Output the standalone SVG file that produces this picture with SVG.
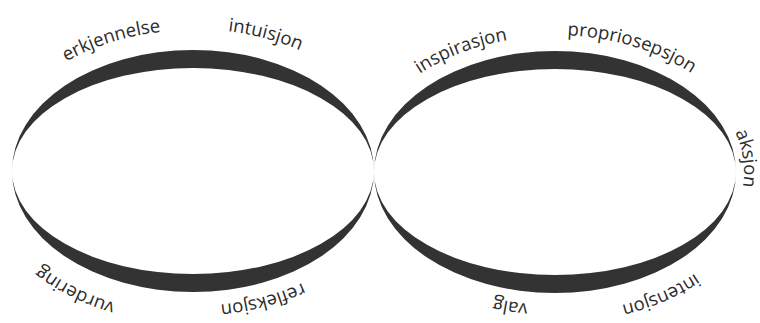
<svg xmlns="http://www.w3.org/2000/svg" width="760" height="323" viewBox="0 0 760 323">
<style>
.ring{fill:#333;fill-rule:evenodd;stroke:none}
.lbl{font-family:"Open Sans","Noto Sans","DejaVu Sans",sans-serif;font-size:18.5px;fill:#2b2b2b}
</style>
<defs>
<path id="p-erkjennelse" d="M29.6 88.9 A201 141 0 0 1 212.6 30.7"/>
<path id="p-intuisjon" d="M161.1 30.8 A202 142 0 0 1 349.8 81.4"/>
<path id="p-vurdering" d="M169.7 313 A203 143 0 0 1 6.7 227.8"/>
<path id="p-refleksjon" d="M341.2 258.6 A195 135 0 0 1 157.5 303.7"/>
<path id="p-inspirasjon" d="M386.5 103.1 A195 135 0 0 1 555.7 36"/>
<path id="p-propriosepsjon" d="M529.3 36.2 A196 136 0 0 1 710.4 88.2"/>
<path id="p-aksjon" d="M710.2 97.3 A189 129 0 0 1 726 226"/>
<path id="p-valg" d="M608.5 299.8 A194 134 0 0 1 420.2 267.4"/>
<path id="p-intensjon" d="M732.2 239.2 A202 142 0 0 1 559.6 313"/>
</defs>
<rect width="760" height="323" fill="#fff"/>
<g id="ring-left">
<path class="ring" d="M12 171 A181 121 0 1 1 374 171 A181 121 0 1 1 12 171 Z M12 171 A181 103 0 1 1 374 171 A181 103 0 1 1 12 171 Z"/>
</g>
<g id="ring-right">
<path class="ring" d="M374 172 A181 121 0 1 1 736 172 A181 121 0 1 1 374 172 Z M374 172 A181 103 0 1 1 736 172 A181 103 0 1 1 374 172 Z"/>
</g>
<g id="labels">
<g id="erkjennelse"><text class="lbl" text-anchor="middle"><textPath href="#p-erkjennelse" startOffset="48.5%">erkjennelse</textPath></text></g>
<g id="intuisjon"><text class="lbl" text-anchor="middle"><textPath href="#p-intuisjon" startOffset="52%">intuisjon</textPath></text></g>
<g id="vurdering"><text class="lbl" text-anchor="middle"><textPath href="#p-vurdering" startOffset="51%">vurdering</textPath></text></g>
<g id="refleksjon"><text class="lbl" text-anchor="middle"><textPath href="#p-refleksjon" startOffset="45.7%">refleksjon</textPath></text></g>
<g id="inspirasjon"><text class="lbl" text-anchor="middle"><textPath href="#p-inspirasjon" startOffset="49%">inspirasjon</textPath></text></g>
<g id="propriosepsjon"><text class="lbl" text-anchor="middle"><textPath href="#p-propriosepsjon" startOffset="53.6%">propriosepsjon</textPath></text></g>
<g id="aksjon"><text class="lbl" text-anchor="middle"><textPath href="#p-aksjon" startOffset="50%">aksjon</textPath></text></g>
<g id="valg"><text class="lbl" text-anchor="middle"><textPath href="#p-valg" startOffset="50%">valg</textPath></text></g>
<g id="intensjon"><text class="lbl" text-anchor="middle"><textPath href="#p-intensjon" startOffset="47%">intensjon</textPath></text></g>
</g>
</svg>
